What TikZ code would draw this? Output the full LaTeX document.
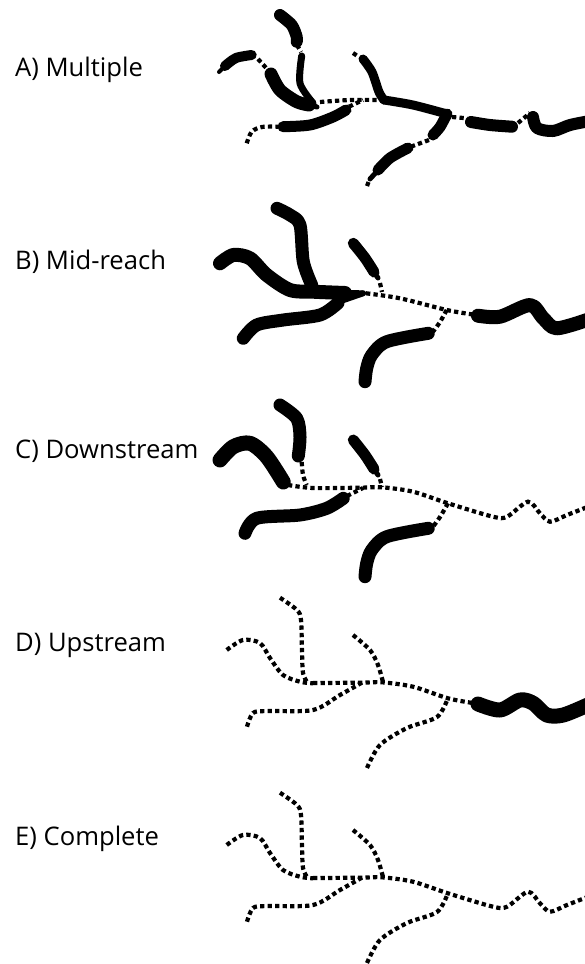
\documentclass[tikz,border=0pt]{standalone}
\usepackage{fontspec}
\setmainfont{Open Sans}
\tikzset{
  dotline/.style={line width=4.2pt, dash pattern=on 4.3pt off 3.2pt},
  reach/.style={line width=#1, line cap=round, line join=round},
  reach/.default=11pt,
  lab/.style={anchor=base west, inner sep=0pt, font=\fontsize{25.6}{30}\selectfont}
}
\begin{document}
\begin{tikzpicture}[x=1pt,y=-1pt]
	\useasboundingbox (0,0) rectangle (585,964);
	\clip (0,0) rectangle (585,964);
	\node[lab] (labA) at (15,76) {A) Multiple};
	\node[lab] (labB) at (15,269) {B) Mid-reach};
	\node[lab] (labC) at (15,458) {C) Downstream};
	\node[lab] (labD) at (15,651) {D) Upstream};
	\node[lab] (labE) at (15,845) {E) Complete};

	% A
	\draw[reach=12pt] plot[smooth] coordinates {(280,15) (291.7,25) (296.7,36.7) (296.7,41.7)};
	\draw[dotline] (297,45) -- (301,52);
	\draw[reach=7pt] plot[smooth] coordinates {(301.7,56) (300,83.3) (313,103)};
	\draw[reach=3pt] (312,102) -- (317,107);
	\draw[reach=4pt] (219,72) -- (225,66);
	\draw[reach=10pt] plot[smooth] coordinates {(225,66) (236,58) (251.7,55)};
	\draw[dotline] (258,59) -- (268,70);
	\draw[reach=13pt] plot[smooth] coordinates {(271,74) (280,90) (296.7,101.7) (309,105)};
	\draw[reach=5pt] (305,104) -- (317,107);
	\draw[dotline] plot[smooth] coordinates {(320,102) (350,100) (382,100)};
	\draw[dotline] (353,53) -- (359,57);
	\draw[reach=9pt] plot[smooth] coordinates {(363,59) (372,72) (379,92) (384,100)};
	\draw[reach=9pt] plot[smooth] coordinates {(384,100) (413,105) (447,114)};
	\draw[reach=11pt] plot[smooth] coordinates {(447,114) (440,127) (433,135)};
	\draw[dotline] (429,140) -- (410,147);
	\draw[reach=11pt] plot[smooth] coordinates {(408,148) (390,158) (378,170)};
	\draw[reach=5pt] (380,168) -- (370,179);
	\draw[dotline] (368.5,182) -- (366.7,187);
	\draw[dotline] (452,117) -- (467,118.3);
	\draw[reach=12pt] plot[smooth] coordinates {(471,122) (490,125) (512,126.7)};
	\draw[dotline] (518,123) -- (530,113);
	\draw[reach=12pt] plot[smooth] coordinates {(533,117) (537,128) (553,131) (570,125) (590,121)};
	\draw[dotline] plot[smooth] coordinates {(246.7,143.3) (251.7,131.7) (262,127) (278.3,126.7)};
	\draw[reach=11pt] plot[smooth] coordinates {(283,126.7) (310,125) (333,117) (346,110)};
	\draw[dotline] (349,106.7) -- (363,100);

	% B
	\begin{scope}[yshift=-195pt]
	\draw[reach=13pt] plot[smooth] coordinates {(277,13.3) (290,20) (300,30) (303.3,66.7) (311.7,90)};
	\draw[reach=14pt] plot[smooth] coordinates {(220,68.3) (233.3,60) (250,63.3) (266.7,80) (290,95) (313.3,96.7) (345,98)};
	\draw[reach=13pt] plot[smooth] coordinates {(243.3,143.3) (256.7,130) (283.3,125) (320,120) (338,108)};
	\draw[reach=6pt] (335,108) -- (363,98.3);
	\draw[reach=6pt] (340,98) -- (363,98.3);
	\draw[reach=11pt] plot[smooth] coordinates {(353.3,48.3) (365,63) (374,77)};
	\draw[reach=5pt] (372,74) -- (378,83);
	\draw[dotline] (380,88) -- (382,97);
	\draw[dotline] plot[smooth] coordinates {(366,98.3) (400,103.3) (446.7,115) (471.7,119.3)};
	\draw[reach=14pt] plot[smooth] coordinates {(478,120.7) (500,121.7) (530,110) (543.3,123.3) (556.7,133.3) (590,124)};
	\draw[dotline] plot[smooth] coordinates {(446.7,115) (440,127) (433,136.7)};
	\draw[reach=13pt] plot[smooth] coordinates {(428.3,138.3) (386.7,146.7) (371.7,160) (366.7,173.3) (365,186.7)};
	\end{scope}

	% C
	\begin{scope}[yshift=-390pt]
	\draw[reach=13pt] plot[smooth] coordinates {(280,15) (296.7,28.3) (300,46.7) (298.3,66)};
	\draw[dotline] plot[smooth] coordinates {(301.7,72) (303,85) (306.7,95)};
	\draw[reach=15pt] plot[smooth] coordinates {(220,70) (233.3,56.7) (250,53.3) (266.7,66.7) (283.3,92)};
	\draw[reach=11pt] plot[smooth] coordinates {(353.3,50) (365,65) (374,79)};
	\draw[reach=5pt] (372,76) -- (378,85);
	\draw[dotline] (380,89) -- (382,97);
	\draw[reach=13pt] plot[smooth] coordinates {(245,143.3) (256.7,128.3) (300,125) (326.7,118.3) (343.3,108.3)};
	\draw[dotline] (347,106) -- (363,98);
	\draw[dotline] plot[smooth] coordinates {(288,95) (313,98) (360,97.7) (382,97.3) (413,101.7) (448,113.3) (493,126.7) (507,126.7) (528,111.7) (540,123.3) (550,131.7) (567,125) (590,116)};
	\draw[dotline] plot[smooth] coordinates {(448,113.3) (440,127) (433,136.7)};
	\draw[reach=13pt] plot[smooth] coordinates {(428.3,138.3) (386.7,146.7) (371.7,160) (366.7,173.3) (365,186.7)};
	\end{scope}

	% D
	\begin{scope}[yshift=-585pt]
	\draw[dotline] plot[smooth] coordinates {(280,12.7) (297,25) (301,35) (302,67) (303,88) (307,97)};
	\draw[dotline] plot[smooth] coordinates {(226.7,65) (243,55) (260,58) (270,73) (283,90) (300,96.7) (313,98.3)};
	\draw[dotline] plot[smooth] coordinates {(353,50) (370,65) (378,80) (383,97)};
	\draw[dotline] plot[smooth] coordinates {(247,141.7) (253,128) (267,126) (313,125) (340,110) (363,97)};
	\draw[dotline] plot[smooth] coordinates {(367,183) (380,160) (407,143) (437,132) (448,113)};
	\draw[dotline] plot[smooth] coordinates {(313,98) (360,97.7) (382,97.3) (413,101.7) (448,113.3) (473,118)};
	\draw[reach=15pt] plot[smooth] coordinates {(478,119) (500,125) (520,115) (533.3,118.3) (546.7,130) (563.3,130) (590,119)};
	\end{scope}

	% E
	\begin{scope}[yshift=-780pt]
	\draw[dotline] plot[smooth] coordinates {(280,12.7) (297,25) (301,35) (302,67) (303,88) (307,97)};
	\draw[dotline] plot[smooth] coordinates {(226.7,65) (243,55) (260,58) (270,73) (283,90) (300,96.7) (313,98.3)};
	\draw[dotline] plot[smooth] coordinates {(353,50) (370,65) (378,80) (383,97)};
	\draw[dotline] plot[smooth] coordinates {(247,141.7) (253,128) (267,126) (313,125) (340,110) (363,97)};
	\draw[dotline] plot[smooth] coordinates {(367,183) (380,160) (407,143) (437,132) (448,113)};
	\draw[dotline] plot[smooth] coordinates {(313,98) (360,97.7) (382,97.3) (413,101.7) (448,113.3) (493,126.7) (507,126.7) (528,111.7) (540,123.3) (550,131.7) (567,125) (590,116)};
	\end{scope}
\end{tikzpicture}
\end{document}
